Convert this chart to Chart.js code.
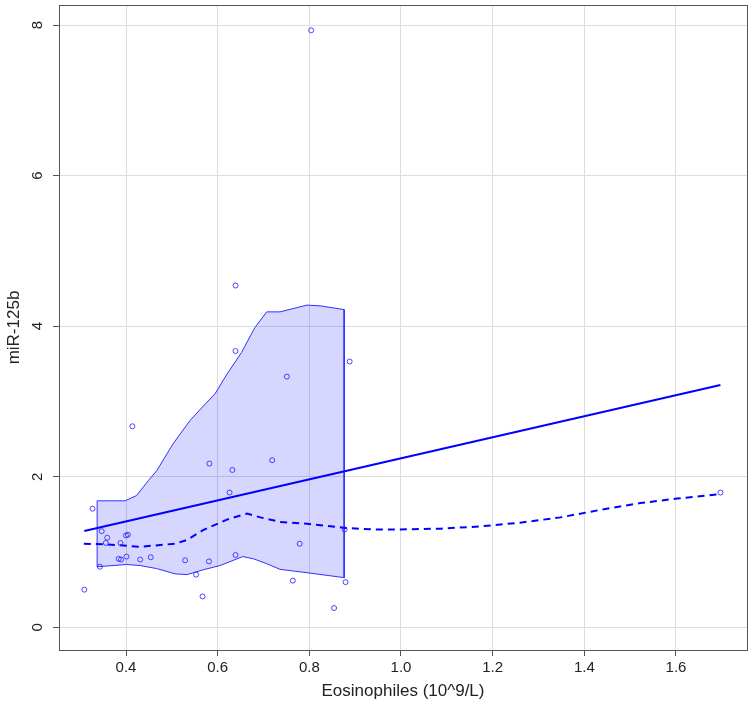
<!DOCTYPE html>
<html>
<head>
<meta charset="utf-8">
<script src="https://cdn.jsdelivr.net/npm/chart.js@4/dist/chart.umd.min.js"></script>
<style>
  body { margin: 0; background: #fff; }
  #wrap { width: 752px; height: 708px; }
</style>
</head>
<body>
<div id="wrap"><canvas id="myChart"></canvas></div>
<script>
// scatter points (Eosinophiles vs miR-125b)
let eosinophiles = [0.309, 0.327, 0.343, 0.347, 0.356, 0.359, 0.384, 0.388, 0.389, 0.400,
                    0.401, 0.404, 0.414, 0.431, 0.454, 0.529, 0.553, 0.567, 0.581, 0.582,
                    0.626, 0.632, 0.639, 0.639, 0.639, 0.719, 0.751, 0.764, 0.779, 0.804,
                    0.854, 0.877, 0.879, 0.888, 1.697];
let mir125b = [0.50, 1.575, 0.805, 1.277, 1.12, 1.19, 0.91, 1.12, 0.90, 1.22,
               0.94, 1.23, 2.67, 0.90, 0.93, 0.89, 0.70, 0.41, 0.875, 2.175,
               1.79, 2.09, 0.96, 3.67, 4.54, 2.22, 3.33, 0.62, 1.11, 7.93,
               0.256, 1.30, 0.60, 3.53, 1.79];

// linear fit
let fitX = [0.309, 1.697];
let fitY = [1.279, 3.218];

// smoother (dashed)
let smoothX = [0.308, 0.359, 0.431, 0.507, 0.533, 0.568, 0.620, 0.664, 0.693, 0.736, 0.795,
               0.878, 0.939, 0.998, 1.086, 1.173, 1.260, 1.348, 1.435, 1.522, 1.603, 1.697];
let smoothY = [1.11, 1.10, 1.07, 1.11, 1.16, 1.29, 1.43, 1.51, 1.46, 1.40, 1.375,
               1.32, 1.30, 1.30, 1.31, 1.34, 1.39, 1.46, 1.56, 1.65, 1.71, 1.77];

// shaded band
let bandUpperX = [0.337, 0.398, 0.423, 0.449, 0.467, 0.503, 0.540, 0.569, 0.594, 0.620,
                  0.652, 0.681, 0.707, 0.736, 0.795, 0.824, 0.876];
let bandUpperY = [1.68, 1.68, 1.75, 1.95, 2.08, 2.44, 2.75, 2.94, 3.10, 3.36,
                  3.65, 3.98, 4.19, 4.19, 4.28, 4.27, 4.22];
let bandLowerX = [0.337, 0.372, 0.401, 0.431, 0.467, 0.507, 0.533, 0.569, 0.605, 0.655,
                  0.678, 0.707, 0.736, 0.795, 0.876];
let bandLowerY = [0.805, 0.82, 0.835, 0.82, 0.78, 0.71, 0.70, 0.765, 0.82, 0.94,
                  0.91, 0.845, 0.77, 0.725, 0.66];

let xTicks = [0.4, 0.6, 0.8, 1.0, 1.2, 1.4, 1.6];
let yTicks = [0, 2, 4, 6, 8];

const FONT = '"Liberation Sans", Arial, sans-serif';

function pairs(xs, ys) {
    return xs.map((x, i) => ({ x: x, y: ys[i] }));
}

let band = pairs(bandUpperX, bandUpperY)
    .concat(pairs(bandLowerX, bandLowerY).reverse());
band.push(band[0]);

// box round the plot + rotated y tick labels
const framePlugin = {
    id: 'frame',
    afterDraw(chart) {
        const ctx = chart.ctx;
        const a = chart.chartArea;
        const y = chart.scales.y;
        ctx.save();
        ctx.strokeStyle = '#555';
        ctx.lineWidth = 1;
        ctx.strokeRect(a.left + 0.5, a.top + 0.5, a.right - a.left, a.bottom - a.top);
        ctx.fillStyle = '#222';
        ctx.font = '15px ' + FONT;
        ctx.textAlign = 'center';
        ctx.textBaseline = 'middle';
        yTicks.forEach(v => {
            ctx.save();
            ctx.translate(38, y.getPixelForValue(v));
            ctx.rotate(-Math.PI / 2);
            ctx.fillText(String(v), 0, 0);
            ctx.restore();
        });
        ctx.restore();
    }
};

let myChart = document.getElementById('myChart').getContext('2d');

let chart = new Chart(myChart, {
    type: 'scatter',
    data: {
        datasets: [{
            data: pairs(eosinophiles, mir125b),
            pointStyle: 'circle',
            pointRadius: 2.5,
            pointBorderWidth: 1,
            pointBorderColor: 'rgba(40,40,255,0.85)',
            pointBackgroundColor: 'rgba(0,0,0,0)'
        }, {
            type: 'line',
            data: pairs(fitX, fitY),
            borderColor: '#0000ff',
            borderWidth: 2,
            pointRadius: 0,
            fill: false
        }, {
            type: 'line',
            data: pairs(smoothX, smoothY),
            borderColor: '#0000ff',
            borderWidth: 2,
            borderDash: [7, 5],
            pointRadius: 0,
            tension: 0,
            fill: false
        }, {
            type: 'line',
            data: band,
            borderColor: '#3030ff',
            borderWidth: 1,
            backgroundColor: 'rgba(0,0,255,0.16)',
            pointRadius: 0,
            tension: 0,
            fill: 'shape'
        }]
    },
    options: {
        responsive: true,
        maintainAspectRatio: false,
        animation: false,
        layout: { padding: { top: 5, right: 5, left: 0, bottom: 0 } },
        plugins: {
            legend: { display: false },
            tooltip: { enabled: false }
        },
        scales: {
            x: {
                type: 'linear',
                min: 0.2538,
                max: 1.755,
                afterBuildTicks: s => { s.ticks = xTicks.map(v => ({ value: v })); },
                afterFit: s => { s.height = 58; },
                grid: { color: '#dcdcdc', tickColor: '#555', tickLength: 6 },
                border: { display: false },
                ticks: {
                    color: '#222',
                    padding: 3,
                    maxRotation: 0,
                    font: { family: FONT, size: 15 },
                    callback: v => v.toFixed(1)
                },
                title: {
                    display: true,
                    text: 'Eosinophiles (10^9/L)',
                    color: '#222',
                    font: { family: FONT, size: 17 },
                    padding: { top: 0, bottom: 6 }
                }
            },
            y: {
                type: 'linear',
                min: -0.3015,
                max: 8.266,
                afterBuildTicks: s => { s.ticks = yTicks.map(v => ({ value: v })); },
                afterFit: s => { s.width = 59; },
                grid: { color: '#dcdcdc', tickColor: '#555', tickLength: 6 },
                border: { display: false },
                ticks: { display: false },
                title: {
                    display: true,
                    text: 'miR-125b',
                    color: '#222',
                    font: { family: FONT, size: 17 },
                    padding: { top: 4, bottom: 0 }
                }
            }
        }
    },
    plugins: [framePlugin]
});
</script>
</body>
</html>
